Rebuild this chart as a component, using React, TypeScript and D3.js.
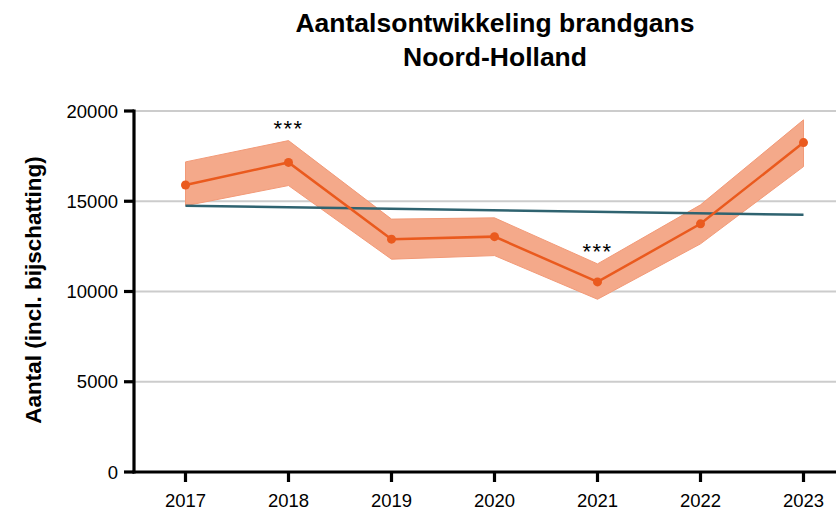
import React from "react";
import * as d3 from "d3";

const years = [2017, 2018, 2019, 2020, 2021, 2022, 2023];
const counts = [15900, 17150, 12900, 13040, 10530, 13750, 18250];
const lower = [14750, 15870, 11790, 11990, 9570, 12640, 16920];
const upper = [17180, 18360, 14010, 14080, 11530, 14800, 19510];
const significant = [false, true, false, false, true, false, false];
const trendStart = 14750;
const trendEnd = 14250;
const yTicks = [0, 5000, 10000, 15000, 20000];
const titleLines = ["Aantalsontwikkeling brandgans", "Noord-Holland"];
const yLabel = "Aantal (incl. bijschatting)";

const W = 836;
const H = 510;
const FONT = "'Liberation Sans', Arial, Helvetica, sans-serif";

export default function App() {
  const x = d3.scaleLinear().domain([2016.5, 2023.5]).range([134, 855]);
  const y = d3.scaleLinear().domain([0, 20000]).range([472, 111]);

  const area = d3
    .area<number>()
    .x((_, i) => x(years[i]))
    .y0((_, i) => y(lower[i]))
    .y1((_, i) => y(upper[i]));
  const line = d3
    .line<number>()
    .x((_, i) => x(years[i]))
    .y((d) => y(d));
  const trendLine = d3
    .line<[number, number]>()
    .x((d) => x(d[0]))
    .y((d) => y(d[1]));
  const trendPts: [number, number][] = [
    [years[0], trendStart],
    [years[years.length - 1], trendEnd],
  ];

  return (
    <svg
      width={W}
      height={H}
      style={{ position: "absolute", left: 0, top: 0, background: "#fff" }}
      fontFamily={FONT}
    >
      {titleLines.map((t, i) => (
        <text
          key={t}
          x={495}
          y={32 + i * 34}
          textAnchor="middle"
          fontSize={26.5}
          fontWeight="bold"
          fill="#000"
        >
          {t}
        </text>
      ))}

      {yTicks.map((t) =>
        t === 0 ? null : (
          <line
            key={"g" + t}
            x1={134}
            x2={W}
            y1={y(t)}
            y2={y(t)}
            stroke="#cccccc"
            strokeWidth={2}
          />
        )
      )}

      <path
        d={area(counts) || ""}
        fill="#f4a98a"
        stroke="#f29a78"
        strokeWidth={1}
      />
      <path
        d={trendLine(trendPts) || ""}
        fill="none"
        stroke="#2f6370"
        strokeWidth={2.5}
      />
      <path
        d={line(counts) || ""}
        fill="none"
        stroke="#ea5a1e"
        strokeWidth={2.5}
      />
      {counts.map((c, i) => (
        <circle key={"p" + i} cx={x(years[i])} cy={y(c)} r={4.5} fill="#ea5a1e" />
      ))}

      {significant.map((s, i) =>
        s ? (
          <text
            key={"s" + i}
            x={x(years[i])}
            y={y(upper[i]) - 5}
            textAnchor="middle"
            fontSize={22}
            letterSpacing={1.5}
            fill="#000"
          >
            ***
          </text>
        ) : null
      )}

      <line x1={134} x2={134} y1={109.5} y2={473.5} stroke="#000" strokeWidth={3.2} />
      <line x1={132.5} x2={W} y1={472} y2={472} stroke="#000" strokeWidth={3.2} />
      {yTicks.map((t) => (
        <g key={"yt" + t}>
          <line x1={124} x2={134} y1={y(t)} y2={y(t)} stroke="#000" strokeWidth={3.2} />
          <text
            x={118}
            y={y(t)}
            dy="0.36em"
            textAnchor="end"
            fontSize={18.5}
            fill="#000"
          >
            {t}
          </text>
        </g>
      ))}
      {years.map((yr) => (
        <g key={"xt" + yr}>
          <line x1={x(yr)} x2={x(yr)} y1={472} y2={482} stroke="#000" strokeWidth={3.2} />
          <text x={x(yr)} y={507} textAnchor="middle" fontSize={18.5} fill="#000">
            {yr}
          </text>
        </g>
      ))}

      <text
        transform={`translate(41, ${290}) rotate(-90)`}
        textAnchor="middle"
        fontSize={22.5}
        fontWeight="bold"
        fill="#000"
      >
        {yLabel}
      </text>
    </svg>
  );
}
